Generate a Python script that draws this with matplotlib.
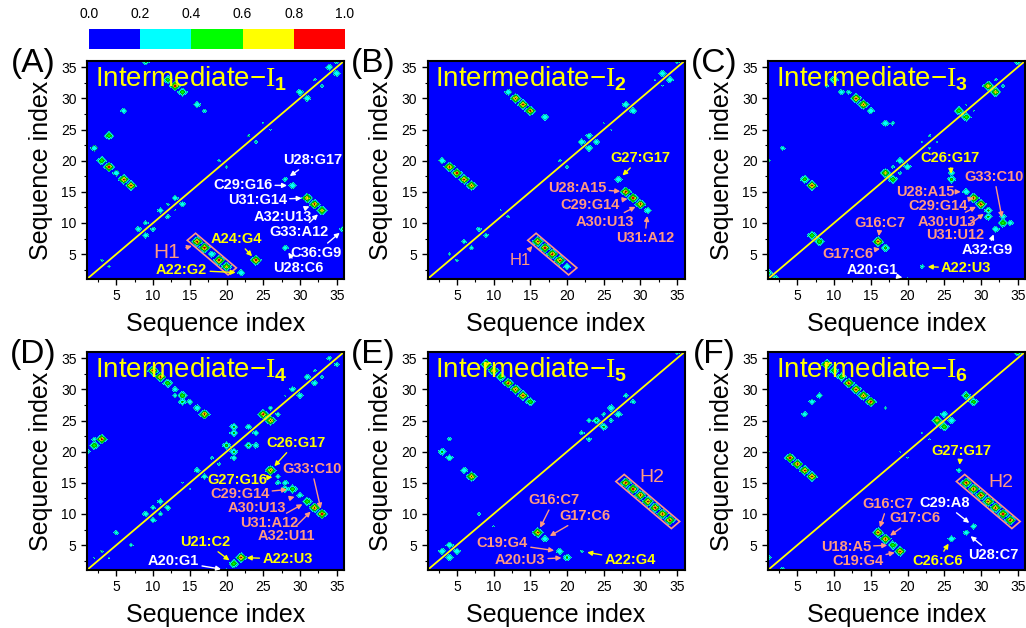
import re
import numpy as np
import matplotlib as mpl
import matplotlib.pyplot as plt
from matplotlib.colors import ListedColormap, BoundaryNorm
from matplotlib.ticker import MultipleLocator
from matplotlib.patches import Polygon

plt.rcParams['font.family'] = ['Liberation Sans', 'DejaVu Sans']
plt.rcParams['mathtext.fontset'] = 'custom'
plt.rcParams['mathtext.rm'] = 'Liberation Serif'
plt.rcParams['mathtext.bf'] = 'Liberation Sans:bold'

# contact frequency bins and colours
levels = [0.0, 0.2, 0.4, 0.6, 0.8, 1.0]
level_colors = ['#0000ff', '#00ffff', '#00ff00', '#ffff00', '#ff0000']
n_res = 36

# contacts (i, j, frequency)
contacts_A = [(9, 36, .55), (12, 33, .55), (13, 32, .85), (14, 31, .6), (16, 29, .4), (17, 28, .28),
              (6, 28, .35), (4, 24, .6), (2, 22, .4), (3, 20, .6), (4, 19, .85), (5, 18, .4),
              (6, 17, .85), (7, 16, .85),
              (3, 4, .25), (4, 3, .25), (8, 9, .35), (9, 8, .35), (9, 10, .3), (10, 9, .3),
              (11, 12, .35), (12, 11, .3), (12, 13, .25), (13, 12, .22), (13, 14, .35), (14, 13, .35),
              (19, 20, .25), (20, 19, .25), (23, 24, .25), (24, 23, .25), (25, 26, .22), (26, 25, .22),
              (30, 31, .4), (31, 30, .4), (32, 33, .25), (33, 32, .25), (34, 35, .4), (35, 34, .4),
              (35, 36, .35),
              (28, 17, .3), (29, 16, .4), (31, 14, .8), (32, 13, .85), (33, 12, .72), (36, 9, .5),
              (28, 6, .35), (24, 4, .9), (22, 2, .4),
              (16, 7, .88), (17, 6, .88), (18, 5, .4), (19, 4, .88), (20, 3, .72)]

contacts_B = [(12, 31, .4), (13, 30, .85), (14, 29, .85), (15, 28, .85), (17, 27, .4), (3, 20, .4),
              (4, 19, .85), (5, 18, .85), (6, 17, .85), (7, 16, .85),
              (1, 2, .25), (4, 5, .25), (5, 4, .25), (6, 7, .3), (7, 6, .3), (8, 9, .3), (9, 8, .3),
              (11, 12, .22), (12, 11, .25), (19, 20, .25), (20, 19, .25), (22, 23, .4), (23, 22, .4),
              (23, 24, .35), (24, 23, .35), (25, 26, .22), (26, 25, .22), (28, 29, .4), (29, 28, .4),
              (32, 33, .22), (33, 32, .22), (33, 34, .4), (34, 33, .4), (35, 36, .35),
              (27, 17, .4), (28, 15, .85), (29, 14, .85), (30, 13, .85), (31, 12, .4),
              (16, 7, .85), (17, 6, .85), (18, 5, .85), (19, 4, .85), (20, 3, .4)]

contacts_C = [(10, 33, .5), (9, 32, .25), (11, 31, .35), (12, 31, .3), (13, 30, .85), (14, 29, .85),
              (15, 28, .4), (17, 26, .4), (18, 26, .28), (3, 22, .3), (1, 20, .3), (6, 17, .55),
              (7, 16, .85),
              (1, 2, .5), (2, 1, .5), (7, 8, .6), (8, 7, .6), (17, 18, .75), (18, 17, .6),
              (18, 19, .25), (19, 18, .25), (19, 20, .4), (20, 19, .4), (22, 23, .22), (23, 24, .25),
              (23, 22, .25), (24, 23, .22), (27, 28, .6), (28, 27, .6), (28, 29, .22), (29, 28, .22),
              (31, 32, .8), (32, 31, .75), (32, 33, .25), (33, 32, .25), (35, 36, .5),
              (26, 17, .5), (26, 18, .35), (28, 15, .4), (29, 14, .85), (30, 13, .85), (31, 12, .45),
              (31, 11, .45), (33, 10, .6), (34, 10, .35), (33, 11, .35), (32, 9, .4),
              (16, 7, .85), (17, 6, .5), (22, 3, .28), (20, 1, .25)]

contacts_D = [(10, 33, .85), (11, 32, .85), (12, 31, .6), (13, 30, .35), (14, 29, .6), (14, 28, .45),
              (15, 28, .35), (13, 29, .3), (16, 27, .4), (17, 26, .85), (2, 21, .6), (3, 22, .85),
              (1, 20, .35), (2, 22, .3),
              (2, 3, .22), (3, 4, .25), (4, 3, .22), (5, 7, .3), (7, 5, .28), (9, 10, .35), (10, 11, .3),
              (11, 12, .35), (11, 10, .3), (12, 11, .35), (10, 9, .35), (14, 15, .22), (15, 14, .22),
              (16, 17, .35), (17, 16, .35), (18, 19, .25), (19, 18, .25), (20, 21, .5), (21, 20, .45),
              (21, 19, .35), (21, 24, .45), (21, 23, .45), (23, 24, .35), (24, 23, .35), (23, 21, .45),
              (24, 21, .35), (25, 26, .85), (26, 25, .85), (26, 27, .3), (27, 26, .3), (28, 29, .22),
              (29, 30, .35), (30, 29, .35), (31, 32, .35), (32, 31, .35), (32, 33, .25), (33, 32, .25),
              (34, 35, .3), (35, 34, .3),
              (26, 17, .85), (27, 16, .3), (28, 14, .45), (29, 14, .6), (28, 15, .35), (27, 15, .3),
              (30, 13, .35), (31, 12, .6), (32, 11, .85), (33, 10, .85), (21, 2, .6), (22, 3, .85),
              (20, 1, .25)]

contacts_E = [(9, 34, .85), (10, 33, .85), (11, 32, .6), (12, 31, .85), (13, 30, .85), (14, 29, .85),
              (15, 28, .6), (4, 22, .28), (3, 20, .45), (4, 19, .4), (6, 17, .4), (7, 16, .85),
              (3, 4, .4), (4, 5, .4), (4, 3, .4), (5, 4, .4), (8, 10, .25), (10, 8, .22),
              (22, 23, .3), (23, 22, .3), (24, 25, .45), (23, 25, .3), (25, 24, .45), (25, 26, .28),
              (26, 25, .28), (26, 27, .4), (27, 26, .4), (28, 29, .3), (29, 28, .3), (35, 36, .35),
              (28, 15, .85), (29, 14, .85), (30, 13, .85), (31, 12, .85), (32, 11, .85), (33, 10, .85),
              (34, 9, .85), (16, 7, .85), (17, 6, .4), (19, 4, .4), (20, 3, .45), (22, 4, .25)]

contacts_F = [(9, 34, .85), (10, 33, .6), (11, 32, .6), (12, 31, .85), (13, 30, .85), (14, 29, .85),
              (15, 28, .85), (17, 27, .25), (7, 28, .35), (8, 29, .35), (6, 26, .35), (4, 19, .85),
              (5, 18, .85), (6, 17, .85), (7, 16, .85), (1, 20, .25),
              (1, 3, .35), (3, 1, .35), (19, 20, .22), (20, 19, .22), (22, 23, .22), (23, 22, .22),
              (24, 25, .75), (25, 24, .6), (25, 26, .4), (26, 25, .4), (28, 29, .55), (29, 28, .55),
              (35, 36, .55),
              (27, 17, .3), (28, 15, .85), (29, 14, .85), (30, 13, .85), (31, 12, .85), (32, 11, .85),
              (33, 10, .85), (34, 9, .85), (29, 8, .35), (28, 7, .35), (26, 6, .4),
              (16, 7, .85), (17, 6, .85), (18, 5, .6), (19, 4, .85), (20, 1, .22)]

# labelled base pairs (residue numbers give the contact they point at)
notes_A = ['U28:G17', 'C29:G16', 'U31:G14', 'A32:U13', 'G33:A12', 'C36:G9', 'U28:C6', 'A24:G4', 'A22:G2']
notes_B = ['G27:G17', 'U28:A15', 'C29:G14', 'A30:U13', 'U31:A12']
notes_C = ['C26:G17', 'G33:C10', 'U28:A15', 'C29:G14', 'A30:U13', 'U31:U12', 'A32:G9',
           'G16:C7', 'G17:C6', 'A20:G1', 'A22:U3']
notes_D = ['C26:G17', 'G33:C10', 'G27:G16', 'C29:G14', 'A30:U13', 'U31:A12', 'A32:U11',
           'U21:C2', 'A22:U3', 'A20:G1']
notes_E = ['G16:C7', 'G17:C6', 'C19:G4', 'A20:U3', 'A22:G4']
notes_F = ['G27:G17', 'C29:A8', 'U28:C7', 'G16:C7', 'G17:C6', 'U18:A5', 'C19:G4', 'C26:C6']

# helices (boxed runs of contacts)
helix_A = ('H1', [(16, 7), (20, 3)])
helix_B = ('H1', [(16, 7), (20, 3)])
helix_E = ('H2', [(28, 15), (34, 9)])
helix_F = ('H2', [(28, 15), (34, 9)])

# label placement (x, y, colour)
W, Y, S = '#ffffff', '#ffff00', '#ff9a80'
place_A = [(31.7, 20.1, W), (22.2, 16.1, W), (24.2, 13.7, W), (27.7, 10.9, W), (29.9, 8.5, W),
           (32.2, 5.2, W), (29.8, 2.8, W), (21.3, 7.4, Y), (13.9, 2.45, Y)]
place_B = [(30.0, 20.4, Y), (21.4, 15.6, S), (23.1, 12.9, S), (25.2, 10.1, S), (30.6, 7.6, S)]
place_C = [(25.8, 20.4, Y), (31.8, 17.4, S), (22.4, 15.0, S), (24.1, 12.7, S), (25.3, 10.15, S),
           (26.5, 8.05, S), (30.9, 5.65, W), (16.3, 10.0, S), (11.9, 5.0, S), (15.2, 2.45, W),
           (28.0, 2.75, Y)]
place_D = [(29.4, 21.4, Y), (31.6, 17.2, S), (21.5, 15.4, Y), (21.8, 13.2, S), (24.2, 11.0, S),
           (25.8, 8.55, S), (28.1, 6.45, S), (17.1, 5.5, Y), (28.3, 2.75, Y), (12.8, 2.4, W)]
place_E = [(18.2, 12.2, S), (22.4, 9.7, S), (11.2, 5.3, S), (13.6, 2.6, S), (28.6, 2.6, Y)]
place_F = [(27.3, 20.1, Y), (25.0, 11.75, W), (31.7, 3.4, W), (17.3, 11.6, S), (20.95, 9.3, S),
           (11.6, 4.7, S), (13.2, 2.45, S), (24.1, 2.45, Y)]
helix_place = {'A': (11.9, 5.2, 15, True), 'B': (13.6, 4.05, 12, True),
               'E': (31.5, 15.8, 14, False), 'F': (32.75, 15.0, 14, False)}

panels = [('A', '1', contacts_A, notes_A, place_A, helix_A),
          ('B', '2', contacts_B, notes_B, place_B, helix_B),
          ('C', '3', contacts_C, notes_C, place_C, None),
          ('D', '4', contacts_D, notes_D, place_D, None),
          ('E', '5', contacts_E, notes_E, place_E, helix_E),
          ('F', '6', contacts_F, notes_F, place_F, helix_F)]

fig = plt.figure(figsize=(10.26, 6.28), dpi=100)
col_px = [87, 427.5, 768]
row_px = [61, 352]
aw, ah = 257, 218

# fine sampling: each contact spreads linearly to zero one residue away
xs = np.linspace(1, n_res, 701)
GX, GY = np.meshgrid(xs, xs)

for k, (tag, sub, contacts, notes, place, helix) in enumerate(panels):
    left = col_px[k % 3]
    top = row_px[k // 3]
    ax = fig.add_axes([left / 1026, 1 - (top + ah) / 628, aw / 1026, ah / 628])

    field = np.zeros_like(GX)
    for i, j, v in contacts:
        peak = v * np.clip(1 - (np.abs(GX - i) + np.abs(GY - j)), 0, None)
        field = np.maximum(field, peak)
    ax.contourf(xs, xs, field, levels=levels, colors=level_colors)
    ax.contour(xs, xs, field, levels=levels[1:-1], colors='k', linewidths=0.35, alpha=0.6)
    ax.plot([1, n_res], [1, n_res], color='#ffff00', lw=1.3)

    if helix is not None:
        name, (p0, p1) = helix
        p0, p1 = np.array(p0, float), np.array(p1, float)
        d = (p1 - p0) / np.linalg.norm(p1 - p0)
        n = np.array([-d[1], d[0]])
        pad, half = 1.1, 0.8
        a, b = p0 - pad * d, p1 + pad * d
        corners = [a + half * n, b + half * n, b - half * n, a - half * n]
        ax.add_patch(Polygon(corners, closed=True, fill=False, edgecolor=S, lw=1.2))
        hx, hy, hs, harrow = helix_place[tag]
        if harrow:
            ax.annotate(name, xy=tuple(p0 - (half + 0.2) * n), xytext=(hx, hy), color=S,
                        fontsize=hs, ha='center', va='center',
                        arrowprops=dict(arrowstyle='-|>', color=S, lw=1, shrinkB=0, mutation_scale=7))
        else:
            ax.text(hx, hy, name, color=S, fontsize=hs, ha='center', va='center')

    for label, (tx, ty, c) in zip(notes, place):
        a, b = re.findall(r'\d+', label)
        ax.annotate(label, xy=(int(a), int(b)), xytext=(tx, ty), color=c, fontsize=10.5,
                    fontweight='bold', ha='center', va='center',
                    arrowprops=dict(arrowstyle='-|>', color=c, lw=1, shrinkA=0, shrinkB=4,
                                    mutation_scale=7))

    ax.text(0.03, 0.885, 'Intermediate\u2212$\\mathrm{I}_{\\mathbf{' + sub + '}}$',
            transform=ax.transAxes, color='#ffff00', fontsize=20, ha='left', va='baseline')
    ax.text(-0.21, 0.99, '(' + tag + ')', transform=ax.transAxes, fontsize=24,
            ha='center', va='center')

    ax.set_xlim(1, n_res)
    ax.set_ylim(1, n_res)
    ax.xaxis.set_major_locator(MultipleLocator(5))
    ax.yaxis.set_major_locator(MultipleLocator(5))
    ax.xaxis.set_minor_locator(MultipleLocator(2.5))
    ax.yaxis.set_minor_locator(MultipleLocator(2.5))
    ax.tick_params(which='major', direction='out', length=4, width=1, labelsize=10)
    ax.tick_params(which='minor', direction='out', length=2, width=0.8)
    for sp in ax.spines.values():
        sp.set_linewidth(1.5)
    ax.set_xlabel('Sequence index', fontsize=18, labelpad=6)
    ax.set_ylabel('Sequence index', fontsize=18, labelpad=6)

# colour scale
cax = fig.add_axes([89 / 1026, 1 - 49 / 628, 256 / 1026, 20 / 628])
cmap = ListedColormap(level_colors)
norm = BoundaryNorm(levels, cmap.N)
cb = fig.colorbar(mpl.cm.ScalarMappable(norm=norm, cmap=cmap), cax=cax,
                  orientation='horizontal', ticks=levels)
cb.outline.set_visible(False)
cax.xaxis.set_ticks_position('top')
cax.tick_params(length=0, labelsize=10, pad=6)
cb.set_ticklabels(['%.1f' % v for v in levels])

fig.savefig('out.png', dpi=100)
